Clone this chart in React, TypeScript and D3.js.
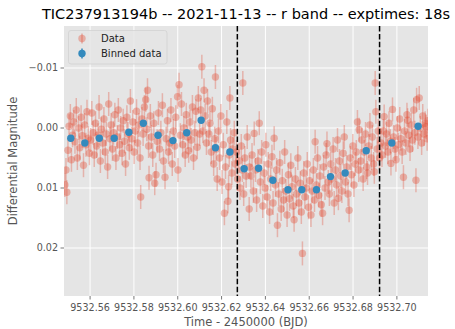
import { useEffect, useRef } from "react";
import * as d3 from "d3";

const title = "TIC237913194b -- 2021-11-13 -- r band -- exptimes: 18s";

// raw photometry [time (BJD - 2450000), differential magnitude]
const dataPoints: [number, number][] = [
  [9532.5485, 0.0095], [9532.549, 0.007], [9532.5494, 0.0107], [9532.5499, 0.0037], [9532.5504, -0.0003],
  [9532.551, -0.002], [9532.5515, 0.0053], [9532.552, 0.0012], [9532.5526, -0.001], [9532.5531, 0.0023],
  [9532.5537, -0.003], [9532.5542, 0.005], [9532.5548, 0.0], [9532.5553, 0.0033], [9532.5559, -0.0018],
  [9532.5564, 0.0013], [9532.557, 0.0062], [9532.5575, -0.0005], [9532.5581, 0.0028], [9532.5586, -0.0027],
  [9532.5592, 0.0017], [9532.5597, 0.0042],
  [9532.5603, 0.002], [9532.5608, -0.0025], [9532.5614, 0.0008], [9532.5619, 0.0045], [9532.5625, -0.0008],
  [9532.563, 0.003], [9532.5636, 0.0012], [9532.5641, -0.0035], [9532.5647, 0.0055], [9532.5652, 0.0002],
  [9532.5658, 0.0025], [9532.5663, -0.0015], [9532.5669, 0.004], [9532.5674, 0.001], [9532.568, 0.0065],
  [9532.5685, -0.004], [9532.5691, 0.0018], [9532.5696, -0.0005], [9532.5702, 0.0035], [9532.5707, 0.0008],
  [9532.5713, -0.0022], [9532.5718, 0.005], [9532.5724, 0.0015], [9532.5729, -0.003], [9532.5735, 0.0028],
  [9532.574, 0.0], [9532.5746, 0.0042], [9532.5751, -0.0012], [9532.5757, 0.0022], [9532.5762, 0.006],
  [9532.5768, -0.0018], [9532.5773, 0.001], [9532.5779, 0.0033], [9532.5784, -0.0045],
  [9532.579, 0.0018], [9532.5795, -0.001], [9532.5801, 0.004], [9532.5806, 0.0005], [9532.5812, -0.0028],
  [9532.5817, 0.0025], [9532.5823, -0.0005], [9532.5828, 0.005], [9532.5831, 0.0115], [9532.5837, -0.0015],
  [9532.5842, 0.001], [9532.5848, -0.0035], [9532.5854, -0.0047], [9532.5859, 0.0002], [9532.5862, -0.0063],
  [9532.5867, 0.003], [9532.5869, 0.0083], [9532.5875, -0.002], [9532.588, 0.0015], [9532.5886, 0.0045],
  [9532.5891, -0.0008], [9532.5895, 0.0092], [9532.5901, 0.0078], [9532.5906, 0.0022], [9532.5912, -0.0025],
  [9532.5917, 0.0035], [9532.5923, 0.0008], [9532.593, -0.0038], [9532.5935, 0.0055], [9532.5942, 0.0082],
  [9532.5947, 0.0018], [9532.5953, -0.0012], [9532.5958, 0.004], [9532.5964, 0.0025], [9532.5969, -0.003],
  [9532.5975, 0.006], [9532.598, 0.0005], [9532.5986, 0.003], [9532.5991, -0.0018], [9532.5999, -0.0052],
  [9532.6001, 0.007], [9532.6006, -0.0072], [9532.6012, 0.0012], [9532.6017, -0.004], [9532.6023, 0.0028],
  [9532.6028, 0.0], [9532.6034, 0.0045], [9532.6039, -0.0022], [9532.6045, 0.0015], [9532.605, 0.0038],
  [9532.6056, -0.001], [9532.6061, 0.002], [9532.6067, -0.0035], [9532.6072, 0.005], [9532.6078, 0.0008],
  [9532.6083, -0.0028], [9532.6089, 0.0032], [9532.6094, -0.005], [9532.61, 0.001],
  [9532.6105, -0.003], [9532.611, -0.0102], [9532.6115, 0.0005], [9532.612, -0.0063], [9532.6125, -0.002],
  [9532.6131, 0.0025], [9532.6136, -0.0045], [9532.6142, 0.001], [9532.6147, -0.0008], [9532.6153, 0.004],
  [9532.6158, -0.0032], [9532.6164, 0.006], [9532.6169, 0.0018], [9532.6172, -0.0085], [9532.6175, 0.0035],
  [9532.618, 0.0085], [9532.6186, 0.0005], [9532.6191, 0.005], [9532.6197, -0.002], [9532.6202, 0.009],
  [9532.6208, 0.0028], [9532.6213, 0.0142], [9532.6218, 0.0065], [9532.6224, -0.001], [9532.6229, 0.0122],
  [9532.6232, 0.0098], [9532.6235, 0.0045], [9532.6238, -0.005], [9532.6241, 0.002], [9532.6247, 0.0075],
  [9532.6252, 0.0035], [9532.6258, 0.0008], [9532.6263, 0.006],
  [9532.6268, 0.004], [9532.6273, 0.0085], [9532.6279, 0.0055], [9532.6284, 0.01], [9532.629, 0.003],
  [9532.6295, 0.007], [9532.6297, -0.0075], [9532.6301, 0.011], [9532.6306, 0.005], [9532.6312, 0.008],
  [9532.6317, 0.0015], [9532.6326, 0.0135], [9532.6328, 0.0065],
  [9532.6334, 0.008], [9532.6339, 0.0045], [9532.6345, 0.0105], [9532.6349, 0.0009], [9532.6355, 0.007],
  [9532.636, 0.012], [9532.6366, 0.0055], [9532.6372, -0.0008], [9532.6377, 0.009], [9532.6383, 0.004],
  [9532.6388, 0.013], [9532.6394, 0.0075], [9532.6399, 0.01], [9532.6402, 0.0028], [9532.6408, 0.0115],
  [9532.6413, 0.006], [9532.6419, 0.014], [9532.6424, 0.0085], [9532.643, 0.0048], [9532.6435, 0.0125],
  [9532.644, 0.0017], [9532.6446, 0.0095], [9532.6451, 0.007], [9532.6455, 0.0162], [9532.6461, 0.011],
  [9532.6466, 0.0058], [9532.6472, 0.0135], [9532.6477, 0.0088], [9532.6483, 0.012], [9532.6488, 0.004],
  [9532.6494, 0.0105], [9532.6499, 0.0145], [9532.6505, 0.0078], [9532.651, 0.0118], [9532.6516, 0.0062],
  [9532.6521, 0.0098], [9532.6527, 0.013], [9532.6531, 0.0153], [9532.6537, 0.0085], [9532.6542, 0.011],
  [9532.6548, 0.005], [9532.6553, 0.0125], [9532.6559, 0.0092], [9532.6564, 0.014], [9532.6569, 0.0209],
  [9532.6575, 0.0075], [9532.658, 0.0115], [9532.6586, 0.01], [9532.6591, 0.006], [9532.6597, 0.0132],
  [9532.6602, 0.0088], [9532.6608, 0.0145], [9532.6613, 0.0105], [9532.6619, 0.007], [9532.6624, 0.012],
  [9532.6627, 0.0023], [9532.6633, 0.0095], [9532.6638, 0.005], [9532.6644, 0.0112], [9532.6649, 0.008],
  [9532.6655, 0.0128], [9532.6661, 0.0142], [9532.6666, 0.0065], [9532.6672, 0.01], [9532.6677, 0.0045],
  [9532.6681, 0.0026], [9532.6687, 0.009],
  [9532.6692, 0.011], [9532.6698, 0.006], [9532.6703, 0.0085], [9532.6709, 0.0035], [9532.6714, 0.0125],
  [9532.672, 0.007], [9532.6725, 0.0095], [9532.6729, 0.002], [9532.6733, 0.0117], [9532.6738, 0.0055],
  [9532.6744, 0.008], [9532.6749, 0.0105], [9532.6755, 0.0042], [9532.676, 0.0015], [9532.6766, 0.009],
  [9532.6771, 0.0065], [9532.6777, 0.011], [9532.6782, 0.0137], [9532.6788, 0.005], [9532.6793, 0.0078],
  [9532.6799, 0.003], [9532.6804, 0.0095], [9532.681, 0.006], [9532.6815, 0.004], [9532.682, -0.001],
  [9532.6826, 0.007], [9532.6828, 0.0003],
  [9532.6835, 0.0055], [9532.684, 0.002], [9532.6846, 0.0085], [9532.6851, 0.004], [9532.6857, 0.001],
  [9532.6862, 0.0065], [9532.6866, 0.0075], [9532.6872, 0.003], [9532.6877, -0.0005], [9532.6883, 0.005],
  [9532.6888, 0.0015], [9532.6894, 0.006], [9532.6897, 0.0073], [9532.6901, -0.0075], [9532.6904, -0.0027],
  [9532.691, 0.0035], [9532.6915, 0.0005], [9532.6921, 0.005],
  [9532.6927, 0.0025], [9532.6932, 0.0045], [9532.6938, 0.0005], [9532.6942, -0.0019], [9532.6948, 0.003],
  [9532.6953, 0.001], [9532.6959, 0.004], [9532.6964, -0.0008], [9532.697, 0.0022], [9532.6973, 0.0059],
  [9532.698, -0.0031], [9532.6985, 0.0015], [9532.6991, 0.0035], [9532.6996, 0.0053], [9532.7002, 0.0],
  [9532.7007, 0.0028], [9532.7013, -0.0015], [9532.7018, 0.0018], [9532.7024, 0.004], [9532.703, 0.0082],
  [9532.7035, 0.0005], [9532.7041, 0.0025], [9532.7046, -0.0022], [9532.7049, -0.0013], [9532.7055, 0.0012],
  [9532.706, 0.0035], [9532.7066, -0.0005], [9532.7071, 0.002], [9532.7077, -0.003], [9532.7082, 0.0008],
  [9532.7087, 0.0087], [9532.709, -0.0047], [9532.7096, 0.0015], [9532.7102, -0.005], [9532.7107, 0.0],
  [9532.7113, 0.0025], [9532.7118, -0.002], [9532.7124, 0.001], [9532.7129, -0.0008], [9532.7133, -0.0002],
  [9532.7138, 0.0018], [9532.7142, -0.0012],
];
const dataErr = 0.002; // typical per-point uncertainty

const binTime = [
  9532.5512, 9532.5576, 9532.5642, 9532.571, 9532.5777, 9532.5843, 9532.591, 9532.5978,
  9532.6041, 9532.6107, 9532.6172, 9532.6238, 9532.6303, 9532.6369, 9532.6434, 9532.6503,
  9532.6566, 9532.6633, 9532.6697, 9532.6764, 9532.686, 9532.6977, 9532.7097,
];
const binMag = [
  0.0017, 0.0025, 0.0017, 0.0017, 0.0007, -0.0008, 0.0012, 0.0021,
  0.0008, -0.0013, 0.0033, 0.004, 0.0068, 0.0067, 0.0087, 0.0103,
  0.0103, 0.0103, 0.0081, 0.0075, 0.0038, 0.0025, -0.0003,
];
const binErr = 0.0005;

const transitEdges = [9532.6272, 9532.6921];
const xTicks = [9532.56, 9532.58, 9532.6, 9532.62, 9532.64, 9532.66, 9532.68, 9532.7];
const yTicks = [-0.01, 0.0, 0.01, 0.02];

const W = 455;
const H = 329;
const FONT = "DejaVu Sans, sans-serif";
const RED = "#E24A33";
const BLUE = "#348ABD";

const App = (): JSX.Element => {
  const svgRef = useRef<SVGSVGElement | null>(null);

  useEffect(() => {
    if (!svgRef.current) return;
    const svg = d3.select(svgRef.current);
    svg.selectAll("*").remove();

    const plot = { left: 64, right: 428, top: 26, bottom: 296 };

    const x = d3.scaleLinear().domain([9532.5481, 9532.7142]).range([plot.left, plot.right]);
    const y = d3.scaleLinear().domain([-0.017, 0.028]).range([plot.top, plot.bottom]);

    svg.append("rect").attr("width", W).attr("height", H).attr("fill", "#fff");

    // axes background
    svg
      .append("rect")
      .attr("x", plot.left)
      .attr("y", plot.top)
      .attr("width", plot.right - plot.left)
      .attr("height", plot.bottom - plot.top)
      .attr("fill", "#E5E5E5");

    const clip = svg.append("clipPath").attr("id", "plot-clip");
    clip
      .append("rect")
      .attr("x", plot.left)
      .attr("y", plot.top)
      .attr("width", plot.right - plot.left)
      .attr("height", plot.bottom - plot.top);

    // grid
    const grid = svg.append("g").attr("stroke", "#fff").attr("stroke-width", 1);
    xTicks.forEach((t) => {
      grid.append("line").attr("x1", x(t)).attr("x2", x(t)).attr("y1", plot.top).attr("y2", plot.bottom);
    });
    yTicks.forEach((t) => {
      grid.append("line").attr("x1", plot.left).attr("x2", plot.right).attr("y1", y(t)).attr("y2", y(t));
    });

    // tick marks + labels
    const axis = svg.append("g").attr("font-family", FONT).attr("font-size", 9.6).attr("fill", "#555");
    xTicks.forEach((t) => {
      axis
        .append("line")
        .attr("x1", x(t))
        .attr("x2", x(t))
        .attr("y1", plot.bottom)
        .attr("y2", plot.bottom + 3.5)
        .attr("stroke", "#555")
        .attr("stroke-width", 0.8);
      axis
        .append("text")
        .attr("x", x(t))
        .attr("y", plot.bottom + 15)
        .attr("text-anchor", "middle")
        .text(t.toFixed(2));
    });
    yTicks.forEach((t) => {
      axis
        .append("line")
        .attr("x1", plot.left - 3.5)
        .attr("x2", plot.left)
        .attr("y1", y(t))
        .attr("y2", y(t))
        .attr("stroke", "#555")
        .attr("stroke-width", 0.8);
      axis
        .append("text")
        .attr("x", plot.left - 6)
        .attr("y", y(t))
        .attr("dy", "0.35em")
        .attr("text-anchor", "end")
        .text(t.toFixed(2).replace("-", "\u2212"));
    });

    // axis labels
    svg
      .append("text")
      .attr("x", (plot.left + plot.right) / 2)
      .attr("y", 326)
      .attr("text-anchor", "middle")
      .attr("font-family", FONT)
      .attr("font-size", 11.5)
      .attr("fill", "#555")
      .text("Time - 2450000 (BJD)");
    svg
      .append("text")
      .attr("transform", `translate(17,${(plot.top + plot.bottom) / 2}) rotate(-90)`)
      .attr("text-anchor", "middle")
      .attr("font-family", FONT)
      .attr("font-size", 11.5)
      .attr("fill", "#555")
      .text("Differential Magnitude");

    // title
    svg
      .append("text")
      .attr("x", (plot.left + plot.right) / 2)
      .attr("y", 19)
      .attr("text-anchor", "middle")
      .attr("font-family", FONT)
      .attr("font-size", 14.5)
      .attr("fill", "#000")
      .text(title);

    const inner = svg.append("g").attr("clip-path", "url(#plot-clip)");

    // raw data: error bars then markers
    const raw = inner.append("g");
    dataPoints.forEach(([t, m]) => {
      raw
        .append("line")
        .attr("x1", x(t))
        .attr("x2", x(t))
        .attr("y1", y(m - dataErr))
        .attr("y2", y(m + dataErr))
        .attr("stroke", RED)
        .attr("stroke-width", 1.5)
        .attr("opacity", 0.32);
    });
    dataPoints.forEach(([t, m]) => {
      raw
        .append("circle")
        .attr("cx", x(t))
        .attr("cy", y(m))
        .attr("r", 3.7)
        .attr("fill", RED)
        .attr("opacity", 0.36);
    });

    // binned data
    const binned = inner.append("g");
    binTime.forEach((t, i) => {
      binned
        .append("line")
        .attr("x1", x(t))
        .attr("x2", x(t))
        .attr("y1", y(binMag[i] - binErr))
        .attr("y2", y(binMag[i] + binErr))
        .attr("stroke", BLUE)
        .attr("stroke-width", 1.5);
      binned.append("circle").attr("cx", x(t)).attr("cy", y(binMag[i])).attr("r", 3.7).attr("fill", BLUE);
    });

    // transit ingress / egress markers
    transitEdges.forEach((t) => {
      inner
        .append("line")
        .attr("x1", x(t))
        .attr("x2", x(t))
        .attr("y1", plot.top)
        .attr("y2", plot.bottom)
        .attr("stroke", "#000")
        .attr("stroke-width", 1.5)
        .attr("stroke-dasharray", "5.5,2.4");
    });

    // legend
    const lg = svg.append("g").attr("font-family", FONT).attr("font-size", 10);
    lg.append("rect")
      .attr("x", 68.5)
      .attr("y", 30.5)
      .attr("width", 98.5)
      .attr("height", 33.5)
      .attr("rx", 2.5)
      .attr("fill", "#E5E5E5")
      .attr("fill-opacity", 0.8)
      .attr("stroke", "#d2d2d2")
      .attr("stroke-width", 0.8);
    const items = [
      { label: "Data", color: RED, alpha: 0.36, yy: 38.5 },
      { label: "Binned data", color: BLUE, alpha: 1, yy: 53.5 },
    ];
    items.forEach((it) => {
      lg.append("line")
        .attr("x1", 82)
        .attr("x2", 82)
        .attr("y1", it.yy - 5)
        .attr("y2", it.yy + 5)
        .attr("stroke", it.color)
        .attr("stroke-width", 1.5)
        .attr("opacity", it.alpha);
      lg.append("circle").attr("cx", 82).attr("cy", it.yy).attr("r", 3.7).attr("fill", it.color).attr("opacity", it.alpha);
      lg.append("text").attr("x", 101).attr("y", it.yy).attr("dy", "0.35em").attr("fill", "#222").text(it.label);
    });
  }, []);

  return (
    <svg
      ref={svgRef}
      width={W}
      height={H}
      style={{ position: "absolute", left: 0, top: 0, display: "block" }}
    />
  );
};

export default App;
